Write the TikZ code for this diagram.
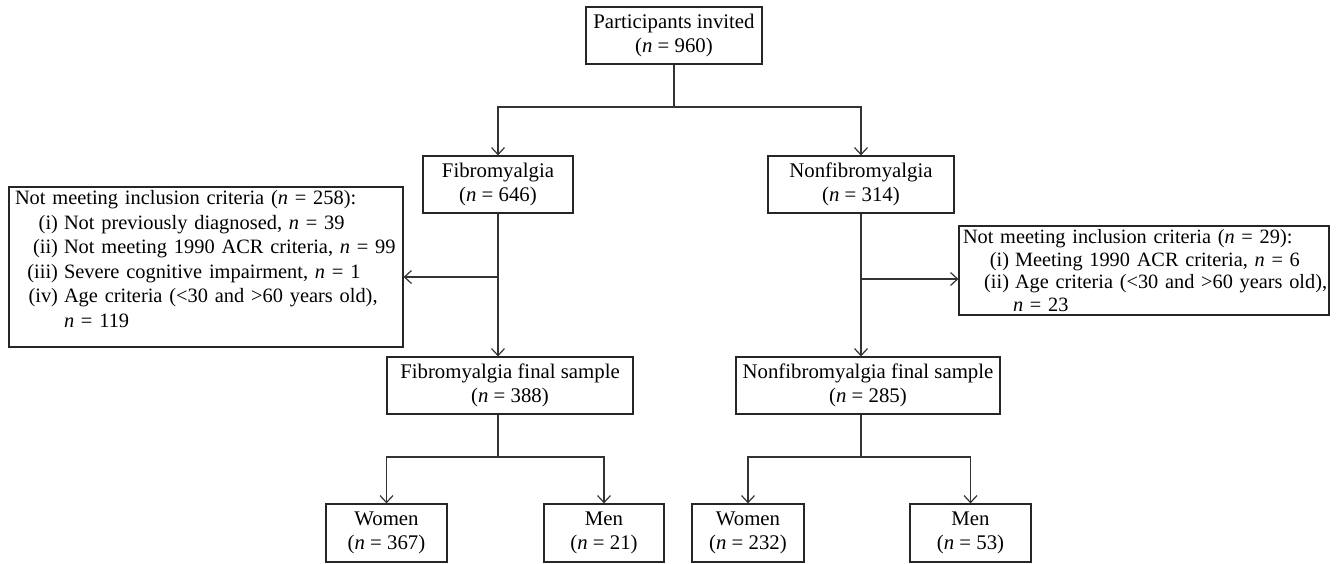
\documentclass[tikz,border=0pt]{standalone}
\usepackage{fontspec}
\setmainfont{Liberation Serif}
\usetikzlibrary{arrows.meta}
\newcommand{\nn}{\textit{n}}
\newcommand{\itm}[3]{\mbox{\makebox[#1][r]{#2}\hspace{6pt}#3}}
\begin{document}
\begin{tikzpicture}[x=1pt,y=-1pt,
  font=\fontsize{20.8}{24.5}\selectfont,
  box/.style={draw=black!85, line width=1.2pt, inner sep=0pt, align=center, minimum height=57pt, text=black},
  exclbox/.style={draw=black!85, line width=1.2pt, inner ysep=0pt, align=left, text=black},
  arr/.style={draw=black!80, line width=1.2pt, -{Straight Barb[length=7pt,width=13pt]}},
  conn/.style={draw=black!80, line width=1.2pt}]
\useasboundingbox (0,0) rectangle (1337,563);
\coordinate (ya) at (0,107);
\coordinate (yb) at (0,277);
\coordinate (yc) at (0,279);
\coordinate (yd) at (0,457);

\node[box, minimum width=176pt] (top) at (674,35.5) {Participants invited\\(\nn{} = 960)};
\node[box, minimum width=150pt] (fib) at (498,184.5) {Fibromyalgia\\(\nn{} = 646)};
\node[box, minimum width=186pt] (nfib) at (861,184.5) {Nonfibromyalgia\\(\nn{} = 314)};

\node[exclbox, inner xsep=6pt, text width=382pt, minimum height=160pt,
  font=\fontsize{20.4}{24.5}\selectfont] (lex) at (206,267) {%
\mbox{Not meeting inclusion criteria (\nn{} = 258):}\\
\itm{43pt}{(i)}{Not previously diagnosed, \nn{} = 39}\\
\itm{43pt}{(ii)}{Not meeting 1990 ACR criteria, \nn{} = 99}\\
\itm{43pt}{(iii)}{Severe cognitive impairment, \nn{} = 1}\\
\itm{43pt}{(iv)}{Age criteria (<30 and >60 years old),}\\
\mbox{\hspace*{49pt}\nn{} = 119\rule[-16pt]{0pt}{1pt}}};

\node[exclbox, inner xsep=4pt, text width=362pt, minimum height=89pt,
  font=\fontsize{20.3}{22.4}\selectfont] (rex) at (1144,270.5) {%
\mbox{Not meeting inclusion criteria (\nn{} = 29):}\\
\itm{46pt}{(i)}{Meeting 1990 ACR criteria, \nn{} = 6}\\
\itm{46pt}{(ii)}{Age criteria (<30 and >60 years old),}\\
\mbox{\hspace*{50pt}\nn{} = 23}};

\node[box, minimum width=246pt] (ffin) at (510,385.5) {Fibromyalgia final sample\\(\nn{} = 388)};
\node[box, minimum width=264pt] (nfin) at (868,385.5) {Nonfibromyalgia final sample\\(\nn{} = 285)};

\node[box, minimum width=121pt, minimum height=58pt] (wl) at (386.5,533) {Women\\(\nn{} = 367)};
\node[box, minimum width=120pt, minimum height=58pt] (ml) at (604,533) {Men\\(\nn{} = 21)};
\node[box, minimum width=112pt, minimum height=58pt] (wr) at (748,533) {Women\\(\nn{} = 232)};
\node[box, minimum width=121pt, minimum height=58pt] (mr) at (970.5,533) {Men\\(\nn{} = 53)};

\draw[conn] (top.south) -- (top.south |- ya);
\draw[arr] (top.south |- ya) -| (fib.north);
\draw[arr] (top.south |- ya) -| (nfib.north);

\draw[arr] (fib.south) -- (fib.south |- ffin.north);
\draw[arr] (fib.south |- yb) -- (lex.east |- yb);
\draw[arr] (nfib.south) -- (nfib.south |- nfin.north);
\draw[arr] (nfib.south |- yc) -- (rex.west |- yc);

\draw[conn] (fib.south |- ffin.south) -- (fib.south |- yd);
\draw[arr] (fib.south |- yd) -| (wl.north);
\draw[arr] (fib.south |- yd) -| (ml.north);
\draw[conn] (nfib.south |- nfin.south) -- (nfib.south |- yd);
\draw[arr] (nfib.south |- yd) -| (wr.north);
\draw[arr] (nfib.south |- yd) -| (mr.north);
\end{tikzpicture}
\end{document}
